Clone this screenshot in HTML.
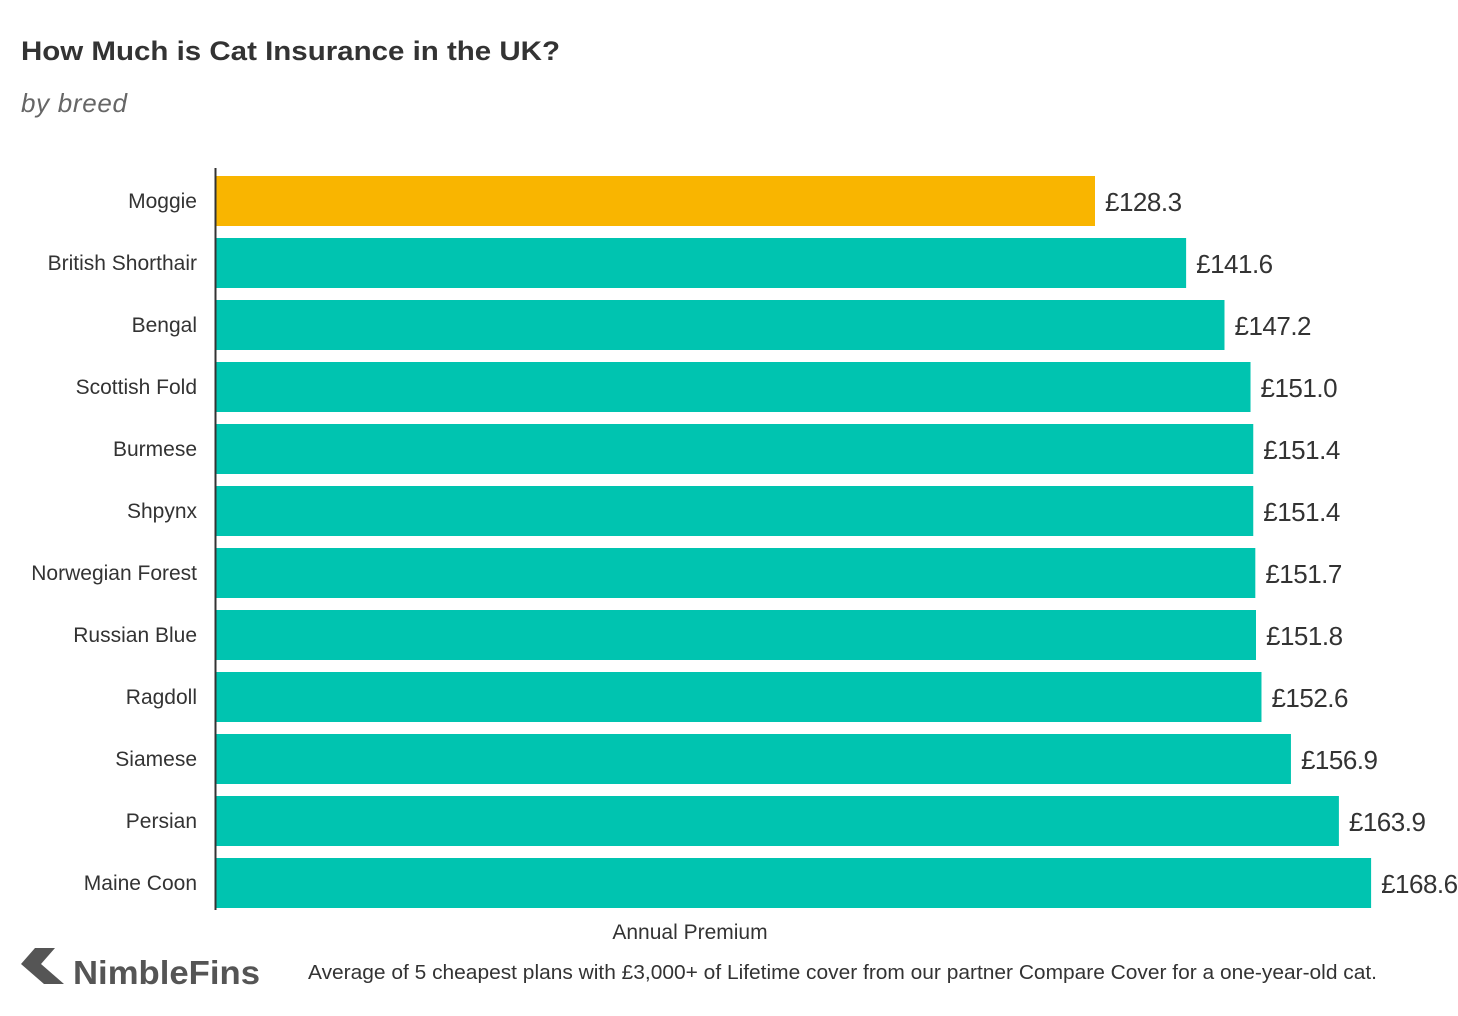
<!DOCTYPE html>
<html><head><meta charset="utf-8"><style>
body{margin:0;background:#fff;width:1458px;height:1016px;overflow:hidden;font-family:"Liberation Sans",sans-serif;}
svg{display:block}
</style></head><body>
<svg width="1458" height="1016">
<text x="21" y="60" font-size="27" font-weight="bold" fill="#333" textLength="539" lengthAdjust="spacingAndGlyphs">How Much is Cat Insurance in the UK?</text>
<text x="21" y="112" font-size="26" font-style="italic" fill="#666" textLength="106">by breed</text>
<g id="bars"></g>
<line x1="215.5" y1="168" x2="215.5" y2="910" stroke="#333" stroke-width="2"/>
<text x="690" y="939" font-size="21" fill="#333" text-anchor="middle">Annual Premium</text>
<g>
<polygon points="21,964 35,948 55,948 41,964 64,984 44,984" fill="#555"/>
<text x="73" y="984" font-size="33" font-weight="bold" fill="#555" textLength="187" lengthAdjust="spacingAndGlyphs">NimbleFins</text>
</g>
<text x="308" y="979" font-size="20" fill="#333" textLength="1069" lengthAdjust="spacingAndGlyphs">Average of 5 cheapest plans with £3,000+ of Lifetime cover from our partner Compare Cover for a one-year-old cat.</text>
</svg>
<script>
const categories=["Moggie","British Shorthair","Bengal","Scottish Fold","Burmese","Shpynx","Norwegian Forest","Russian Blue","Ragdoll","Siamese","Persian","Maine Coon"];
const values=[128.3,141.6,147.2,151.0,151.4,151.4,151.7,151.8,152.6,156.9,163.9,168.6];
const valueLabels=["£128.3","£141.6","£147.2","£151.0","£151.4","£151.4","£151.7","£151.8","£152.6","£156.9","£163.9","£168.6"];
const x0=216, pxPerUnit=879/128.3;
const xScale=v=>x0+v*pxPerUnit;
const yScale=i=>176+i*62;
const ns="http://www.w3.org/2000/svg";
const g=document.getElementById('bars');
categories.forEach((c,i)=>{
  const y=yScale(i);
  const r=document.createElementNS(ns,'rect');
  r.setAttribute('x',x0);r.setAttribute('y',y);
  r.setAttribute('width',xScale(values[i])-x0);r.setAttribute('height',50);
  r.setAttribute('fill',i===0?'#f9b500':'#00c4b0');
  
  
  g.appendChild(r);
  const t=document.createElementNS(ns,'text');
  t.setAttribute('x',197);t.setAttribute('y',y+32);t.setAttribute('text-anchor','end');
  t.setAttribute('font-size','21');t.setAttribute('fill','#333');t.textContent=c;
  
  
  g.appendChild(t);
  const v=document.createElementNS(ns,'text');
  v.setAttribute('x',xScale(values[i])+10);v.setAttribute('y',y+35);
  v.setAttribute('font-size','26');v.setAttribute('fill','#333');v.setAttribute('letter-spacing','-0.5');v.textContent=valueLabels[i];
  
  
  g.appendChild(v);
});
</script>
</body></html>
